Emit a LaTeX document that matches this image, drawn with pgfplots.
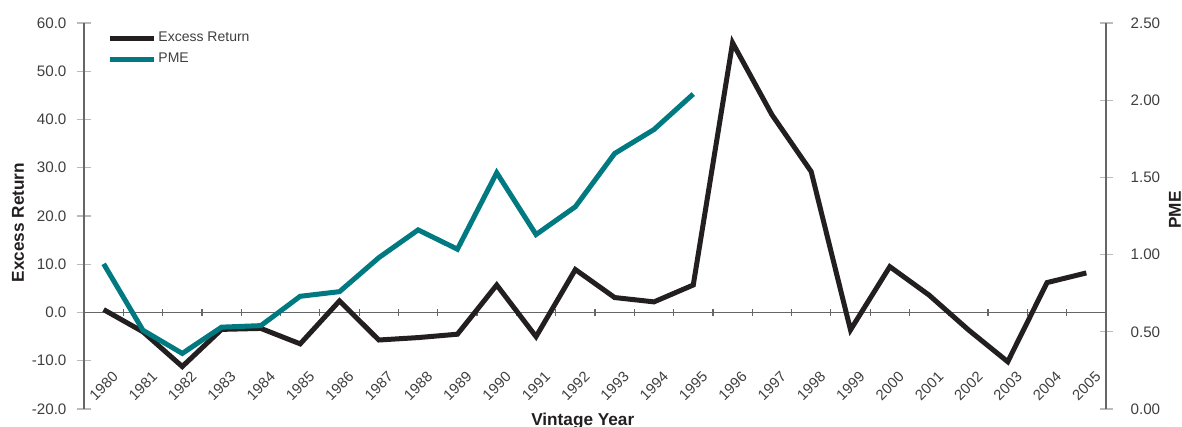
\documentclass[border=0pt]{standalone}
\usepackage{fontspec}
\setmainfont{Liberation Sans}
\usepackage{pgfplots}
\usepackage{pgfplotstable}
\pgfplotsset{compat=1.18}
\definecolor{ercol}{HTML}{231F20}
\definecolor{pmecol}{HTML}{007A80}
\definecolor{axgray}{HTML}{666666}
\definecolor{tickgray}{HTML}{BBBBBB}
\definecolor{labgray}{HTML}{3F3F3F}
\pgfplotstableread{
idx er
0 0.6
1 -4.0
2 -11.2
3 -3.5
4 -3.3
5 -6.5
6 2.4
7 -5.7
8 -5.2
9 -4.5
10 5.7
11 -5.0
12 8.9
13 3.1
14 2.2
15 5.7
16 55.9
17 41.0
18 29.2
19 -3.6
20 9.5
21 3.6
22 -3.6
23 -10.2
24 6.2
25 8.2
}\ertable
\pgfplotstableread{
idx pme
0 0.94
1 0.51
2 0.36
3 0.53
4 0.54
5 0.73
6 0.76
7 0.98
8 1.16
9 1.035
10 1.53
11 1.13
12 1.31
13 1.655
14 1.81
15 2.04
}\pmetable
\begin{document}
\begin{tikzpicture}
\begin{axis}[
  at={(0,0)}, anchor=south west,
  width=511pt, height=193pt, scale only axis,
  xmin=-0.5, xmax=25.5, ymin=-20, ymax=60,
  axis x line*=middle, axis y line*=left,
  hide obscured x ticks=false, hide obscured y ticks=false,
  axis line style={axgray, line width=0.7pt},
  xtick={0,...,25},
  xticklabels={1980,1981,1982,1983,1984,1985,1986,1987,1988,1989,1990,1991,1992,1993,1994,1995,1996,1997,1998,1999,2000,2001,2002,2003,2004,2005},
  minor xtick={0.5,1.5,...,24.5},
  major x tick style={draw=none},
  minor x tick style={axgray, line width=0.6pt},
  minor tick length=3.5pt,
  major tick length=6.5pt,
  tick align=center,
  ytick={-20,-10,0,10,20,30,40,50,60},
  y tick style={tickgray, line width=0.6pt},
  /pgf/number format/assume math mode=true,
  yticklabel style={/pgf/number format/.cd, fixed, fixed zerofill, precision=1, /tikz/.cd,
    font=\fontsize{7.6}{9}\selectfont, text=labgray, xshift=-2pt},
  xticklabel style={font=\fontsize{7.4}{9}\selectfont, text=labgray, rotate=45, anchor=center},
  xticklabel shift=33.5pt,
  xlabel={Vintage Year},
  xlabel style={at={(axis description cs:0.488,0)}, anchor=base, yshift=-8.5pt,
    font=\bfseries\fontsize{8.6}{10}\selectfont, text=ercol},
  ylabel={Excess Return},
  ylabel style={at={(axis description cs:-0.0646,0.483)}, anchor=center,
    font=\bfseries\fontsize{8.6}{10}\selectfont, text=ercol},
  legend style={draw=none, fill=none, at={(axis description cs:0.022,0.982)}, anchor=north west,
    font=\fontsize{7}{8.4}\selectfont, text=labgray, inner sep=0pt, row sep=2pt, nodes={inner sep=1pt}},
  legend cell align=left,
  legend image code/.code={\draw[#1, line width=2.8pt] (0pt,0pt) -- (22pt,0pt);},
]
\addplot[ercol, line width=2.5pt] table[x=idx, y=er] {\ertable};
\addlegendentry{Excess Return}
\addlegendimage{pmecol, line width=2.5pt}
\addlegendentry{PME}
\end{axis}
\begin{axis}[
  at={(0,0)}, anchor=south west,
  width=511pt, height=193pt, scale only axis,
  xmin=-0.5, xmax=25.5, ymin=0, ymax=2.5,
  axis x line=none, axis y line*=right,
  axis line style={axgray, line width=0.7pt},
  ytick={0,0.5,1,1.5,2,2.5},
  y tick style={tickgray, line width=0.6pt},
  major tick length=6.5pt, tick align=center,
  /pgf/number format/assume math mode=true,
  yticklabel style={/pgf/number format/.cd, fixed, fixed zerofill, precision=2, /tikz/.cd,
    font=\fontsize{7.6}{9}\selectfont, text=labgray, xshift=5.5pt},
  ylabel={PME},
  ylabel style={at={(axis description cs:1.0675,0.5155)}, anchor=center,
    font=\bfseries\fontsize{8.6}{10}\selectfont, text=ercol},
]
\addplot[pmecol, line width=2.5pt] table[x=idx, y=pme] {\pmetable};
\end{axis}
\pgfresetboundingbox
\path[use as bounding box] (-42pt,-9pt) rectangle (549pt,204.5pt);
\end{tikzpicture}
\end{document}
